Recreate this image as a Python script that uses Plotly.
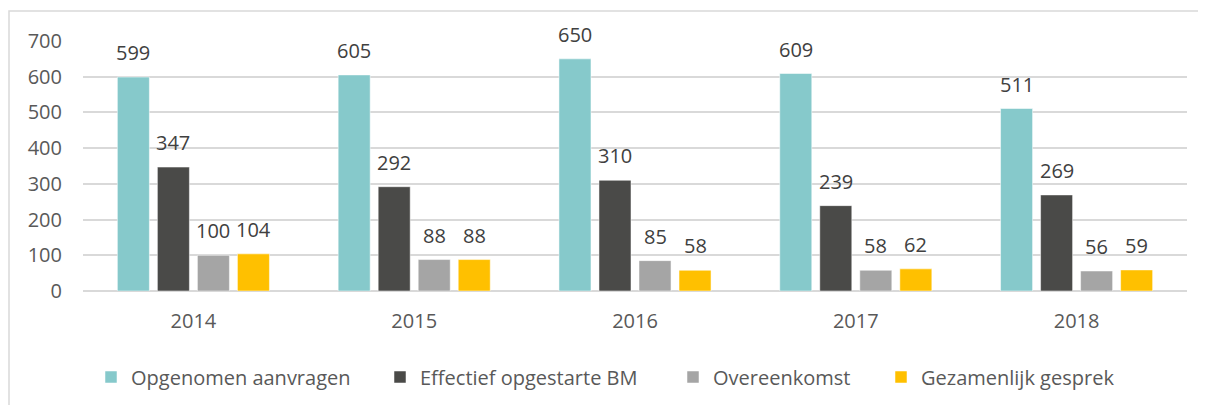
import plotly.graph_objects as go

years = ["2014", "2015", "2016", "2017", "2018"]
series_names = ["Opgenomen aanvragen", "Effectief opgestarte BM", "Overeenkomst", "Gezamenlijk gesprek"]
opgenomen = [599, 605, 650, 609, 511]
effectief = [347, 292, 310, 239, 269]
overeenkomst = [100, 88, 85, 58, 56]
gezamenlijk = [104, 88, 58, 62, 59]
y_ticks = [0, 100, 200, 300, 400, 500, 600, 700]

colors = ["#86C9CB", "#4A4A48", "#A5A5A5", "#FFC000"]
all_values = [opgenomen, effectief, overeenkomst, gezamenlijk]
text_color = "#595959"
font_family = "Open Sans, DejaVu Sans, sans-serif"
fs = 20

# page body has an 8px margin; figure coordinates = page coordinates - 8
OFF = 8
W, H = 1206, 405
ml, mt = 83 - OFF, 41 - OFF
plot_right, plot_bottom = 1187 - OFF, 291 - OFF
mr, mb = W - plot_right, H - plot_bottom
plot_w = W - ml - mr
plot_h = H - mt - mb
cat_w = plot_w / len(years)
bargap = 0.275
pitch = cat_w * (1 - bargap) / len(series_names)

legend_text_px = [131 - OFF, 420 - OFF, 713 - OFF, 921 - OFF]
legend_names = ["legend", "legend2", "legend3", "legend4"]

fig = go.Figure()
annotations = []
for i, (name, vals, col) in enumerate(zip(series_names, all_values, colors)):
    fig.add_trace(go.Bar(
        x=years, y=vals, name=name, legend=legend_names[i],
        marker=dict(color=col, line=dict(color="rgba(255,255,255,0.5)", width=1)),
        hoverinfo="x+y+name",
    ))
    for j, v in enumerate(vals):
        annotations.append(dict(
            x=j, y=v, xref="x", yref="y", text=str(v), showarrow=False,
            xanchor="center", yanchor="bottom",
            xshift=(i - (len(series_names) - 1) / 2) * pitch, yshift=9,
            font=dict(size=fs, color="#404040", family=font_family),
        ))

layout_legends = {}
for i, ln in enumerate(legend_names):
    layout_legends[ln] = dict(
        orientation="h", x=(legend_text_px[i] - 40 - ml) / plot_w, xanchor="left",
        y=(plot_h - (377 - OFF - mt)) / plot_h, yanchor="middle",
        font=dict(size=fs, color=text_color, family=font_family),
        itemclick=False, bgcolor="rgba(0,0,0,0)", borderwidth=0,
    )

fig.update_layout(
    width=W, height=H,
    margin=dict(l=ml, r=mr, t=mt, b=mb, autoexpand=False),
    paper_bgcolor="white", plot_bgcolor="white",
    barmode="group", bargap=bargap, bargroupgap=0.2,
    font=dict(family=font_family, size=fs, color=text_color),
    annotations=annotations,
    showlegend=True,
    shapes=[dict(type="rect", xref="paper", yref="paper",
                 x0=(1 - ml) / plot_w, x1=1.1, y0=-0.6, y1=1 + (mt - (11 - OFF)) / plot_h,
                 line=dict(color="#D9D9D9", width=1.5), fillcolor="rgba(0,0,0,0)", layer="below")],
    **layout_legends,
)
fig.update_xaxes(type="category", range=[-0.5, len(years) - 0.5], showgrid=False, showline=False,
                 ticks="", ticklabelstandoff=16, automargin=False,
                 tickfont=dict(size=fs, color=text_color))
fig.update_yaxes(range=[0, 700], tickvals=y_ticks, showgrid=True, gridcolor="#D9D9D9", gridwidth=1.5,
                 zeroline=True, zerolinecolor="#D9D9D9", zerolinewidth=1.5, showline=False, ticks="",
                 automargin=False, ticklabelstandoff=20, tickfont=dict(size=fs, color=text_color))

fig.write_html("out.html")
